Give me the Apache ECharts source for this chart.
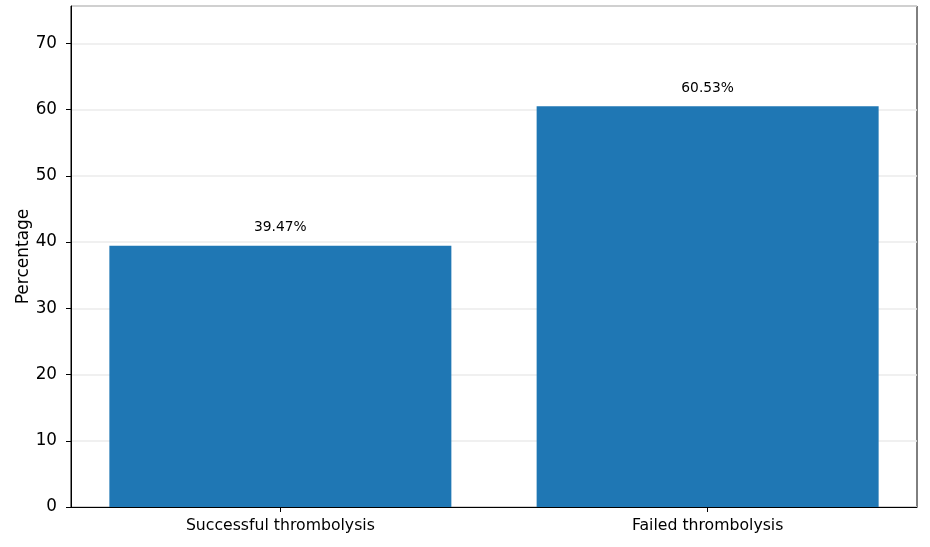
<!DOCTYPE html>
<html lang="en">
<head>
	<meta charset="UTF-8">
	<title>Thrombolysis</title>
	<script src="https://cdn.jsdelivr.net/npm/echarts@6/dist/echarts.min.js"></script>
	<style>
		html, body { margin: 0; padding: 0; background: #fff; }
		#main { width: 930px; height: 547px; }
	</style>
</head>
<body>
<div id="main"></div>
<script>
    // 数据
    var categories = ['Successful thrombolysis', 'Failed thrombolysis'];
    var positions = [0, 1];
    var percentages = [39.47, 60.53];
    var yMax = 75.66;

    var barData = [];
    for (var i = 0; i < percentages.length; i++) {
        barData.push([positions[i], percentages[i]]);
    }

    var myChart = echarts.init(document.getElementById('main'));
    var font = 'DejaVu Sans';
    var option = {
        animation: false,
        grid: {
            left: 71, right: 13, top: 6, bottom: 40,
            show: true, borderColor: '#000', borderWidth: 1
        },
        xAxis: {
            type: 'value',
            min: -0.49,
            max: 1.49,
            axisLine: { show: true, onZero: false, lineStyle: { color: '#000', width: 1 } },
            axisTick: { show: true, customValues: positions, length: 5, lineStyle: { color: '#000' } },
            axisLabel: {
                customValues: positions,
                color: '#000', fontSize: 15.7, fontFamily: font, margin: 11,
                formatter: function (v) { return categories[Math.round(v)]; }
            },
            splitLine: { show: false }
        },
        yAxis: {
            type: 'value',
            min: 0,
            max: yMax,
            interval: 10,
            name: 'Percentage',
            nameLocation: 'middle',
            nameGap: 39,
            nameMoveOverlap: false,
            nameTextStyle: { color: '#000', fontSize: 17, fontFamily: font },
            axisLine: { show: true, onZero: false, lineStyle: { color: '#000', width: 1 } },
            axisTick: { show: true, length: 5, lineStyle: { color: '#000' } },
            axisLabel: { color: '#000', fontSize: 16.8, fontFamily: font, margin: 14, showMaxLabel: false },
            splitLine: { show: true, lineStyle: { color: '#ebebeb', width: 1.5 } }
        },
        series: [{
            type: 'bar',
            data: barData,
            barWidth: 342,
            itemStyle: { color: '#1f77b4' },
            label: {
                show: true,
                position: 'top',
                distance: 11,
                color: '#000',
                fontSize: 13.8,
                fontFamily: font,
                formatter: function (p) { return p.value[1].toFixed(2) + '%'; }
            }
        }]
    };
    myChart.setOption(option);
</script>
</body>
</html>
